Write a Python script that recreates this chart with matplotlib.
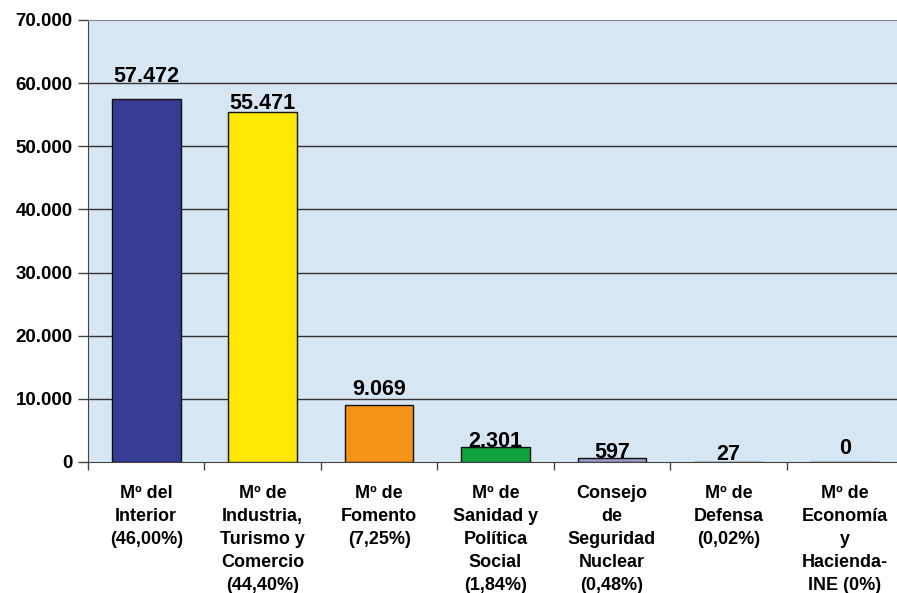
import matplotlib
matplotlib.use("Agg")
import matplotlib.pyplot as plt
import numpy as np

categories = ["Mº del\nInterior\n(46,00%)",
              "Mº de\nIndustria,\nTurismo y\nComercio\n(44,40%)",
              "Mº de\nFomento\n(7,25%)",
              "Mº de\nSanidad y\nPolítica\nSocial\n(1,84%)",
              "Consejo\nde\nSeguridad\nNuclear\n(0,48%)",
              "Mº de\nDefensa\n(0,02%)",
              "Mº de\nEconomía\ny\nHacienda-\nINE (0%)"]
values = [57472, 55471, 9069, 2301, 597, 27, 0]
value_labels = ["57.472", "55.471", "9.069", "2.301", "597", "27", "0"]
bar_colors = ["#383B94", "#FFE800", "#F39418", "#12A23E", "#9A9ACC", "#9A9ACC", "#9A9ACC"]
label_offsets = [12.6, 1.8, 7.2, 0.2, 0.0, 1.2, 6.1]
yticks = [0, 10000, 20000, 30000, 40000, 50000, 60000, 70000]
ytick_labels = ["0", "10.000", "20.000", "30.000", "40.000", "50.000", "60.000", "70.000"]

plt.rcParams['font.family'] = ['Liberation Sans', 'DejaVu Sans']

W, H = 897, 593
fig = plt.figure(figsize=(W/100, H/100), dpi=100)
left, right, top, bottom = 88, 903, 20, 462
ax = fig.add_axes([left/W, 1 - bottom/H, (right-left)/W, (bottom-top)/H])
ax.set_facecolor("#D6E6F2")

x = np.arange(len(values))
ax.bar(x, values, width=0.59, color=bar_colors, edgecolor="#111111", linewidth=1.0, zorder=3)
ax.set_xlim(-0.5, len(values) - 0.5)
ax.set_ylim(0, 70000)

for yv in yticks[1:-1]:
    ax.axhline(yv, color="#333333", linewidth=1.0, zorder=2)

for i, (v, lab, off) in enumerate(zip(values, value_labels, label_offsets)):
    ax.annotate(lab, (i, v), xytext=(0, off), textcoords="offset points",
                ha="center", va="baseline", fontsize=15.5, fontweight="bold", zorder=5)

ax.set_yticks(yticks)
ax.set_yticklabels(ytick_labels, fontsize=13.5, fontweight="bold")
ax.tick_params(axis="y", length=7, width=1, color="#444444", pad=4)

ax.set_xticks(np.arange(-0.5, len(values) + 0.5, 1.0), minor=False)
ax.set_xticklabels([])
ax.tick_params(axis="x", length=6, width=1, color="#444444")
for i, c in enumerate(categories):
    ax.text(i, -23 / (bottom - top), c, transform=ax.get_xaxis_transform(), ha="center", va="top",
            fontsize=13, fontweight="bold", linespacing=1.47)

ax.spines["right"].set_visible(False)
ax.spines["top"].set_color("#888888")
ax.spines["left"].set_color("#444444")
ax.spines["bottom"].set_color("#444444")

fig.savefig("out.png", dpi=100)
